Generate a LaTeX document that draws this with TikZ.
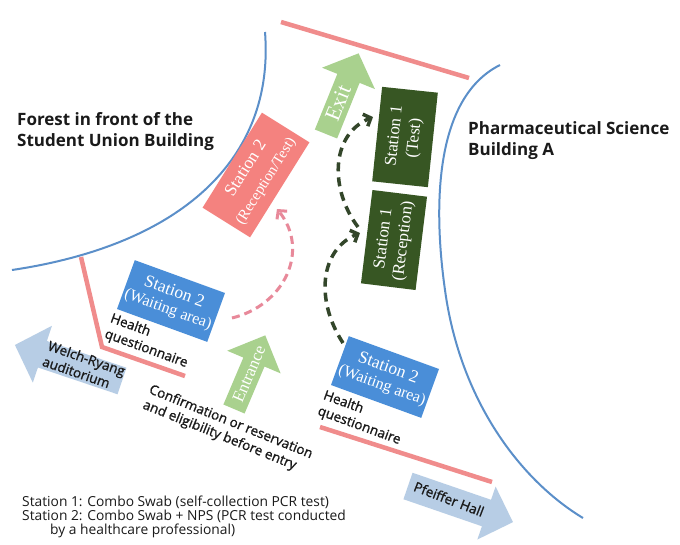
\documentclass[tikz,border=0pt]{standalone}
\usepackage{fontspec}
\setmainfont{Open Sans}
\newfontfamily\serifbox{Liberation Serif}
\newfontfamily\medfont[FakeBold=1.2]{Open Sans}
\usetikzlibrary{arrows.meta}

\definecolor{roadblue}{HTML}{5B8FC9}
\definecolor{wallred}{HTML}{F08C8C}
\definecolor{boxblue}{HTML}{4A8ED8}
\definecolor{boxpink}{HTML}{F4827F}
\definecolor{boxgreen}{HTML}{375623}
\definecolor{arrgreen}{HTML}{A9D18E}
\definecolor{arrblue}{HTML}{B7CDE5}
\definecolor{dashpink}{HTML}{E8899A}
\definecolor{dashgreen}{HTML}{33462A}
\definecolor{labelink}{HTML}{1A1A1A}

% base x, base y, angle, length, shaft, head, headlen, colour
\newcommand{\blockarrow}[8]{%
  \fill[#8, shift={(#1,#2)}, rotate=#3]
    (0,{-#5/2}) -- ({#4-#7},{-#5/2}) -- ({#4-#7},{-#6/2}) -- (#4,0)
    -- ({#4-#7},{#6/2}) -- ({#4-#7},{#5/2}) -- (0,{#5/2}) -- cycle;}

\tikzset{
  road/.style={draw=roadblue, line width=2pt},
  wall/.style={draw=wallred, line width=4.5pt},
  boxbase/.style={inner sep=0pt, align=center, text=white},
  bluebox/.style={boxbase, fill=boxblue, minimum width=96, minimum height=52,
    font=\serifbox\fontsize{17.5}{19}\selectfont},
  pinkbox/.style={boxbase, fill=boxpink, minimum width=112, minimum height=56,
    font=\serifbox\fontsize{17.5}{20}\selectfont},
  greenbox/.style={boxbase, fill=boxgreen, font=\serifbox\fontsize{17}{19}\selectfont},
  title/.style={inner sep=0pt, align=left, text=labelink,
    font=\bfseries\fontsize{17}{21}\selectfont},
  lbl/.style={inner sep=0pt, align=left, text=labelink,
    font=\medfont\fontsize{13.5}{16.5}\selectfont},
  arrlbl/.style={inner sep=0pt, text=white, font=\serifbox},
  pinkdash/.style={draw=dashpink, line width=3pt, dash pattern=on 8pt off 5pt,
    -{Straight Barb[length=6pt,width=13pt,line width=3pt]}},
  greendash/.style={draw=dashgreen, line width=3.5pt, dash pattern=on 9pt off 6pt,
    -{Straight Barb[length=6pt,width=13pt,line width=3.5pt]}},
}

\begin{document}
\begin{tikzpicture}[x=1pt,y=-1pt]
\useasboundingbox (0,0) rectangle (680,544);
\fill[white] (0,0) rectangle (680,544);

% building outlines
\draw[road] (265,32) .. controls (275,160) and (180,245) .. (12,270);
\draw[road] (500,65) .. controls (430,100) and (435,220) .. (445,290)
  .. controls (460,400) and (520,480) .. (583,518);

% fences
\draw[wall] (281,22) -- (469,78);
\draw[wall] (81,257) -- (102,347) -- (185,376);
\draw[wall] (320,427) -- (492,482);

% block arrows
\blockarrow{326}{134}{68}{87}{24}{57}{27}{arrgreen}
\blockarrow{234}{409}{67}{80}{23}{58}{29}{arrgreen}
\blockarrow{122}{381}{161.4}{113}{28}{60}{29}{arrblue}
\blockarrow{408}{486}{-19}{111}{28}{56}{28}{arrblue}

\node[arrlbl, rotate=68, font=\serifbox\fontsize{22}{22}\selectfont] (exitlbl) at (338,103) {Exit};
\node[arrlbl, rotate=67, font=\serifbox\fontsize{17}{17}\selectfont] (entrlbl) at (249,374) {Entrance};
\node[lbl, rotate=-19] (welch) at (84,366) {Welch-Ryang\\auditorium};
\node[lbl, rotate=-21] (pfeiffer) at (449,499) {Pfeiffer Hall};

% stations
\node[bluebox, rotate=-20] (wait1) at (171,301)
  {Station 2\\[-1pt]{\fontsize{16}{17}\selectfont(Waiting area)}};
\node[bluebox, rotate=-20] (wait2) at (385,377)
  {Station 2\\[-1pt]{\fontsize{16}{17}\selectfont(Waiting area)}};
\node[pinkbox, rotate=58] (recep2) at (256,175)
  {Station 2\\[3pt]{\fontsize{15}{16}\selectfont(Reception/Test)}};
\node[greenbox, rotate=84, minimum width=95, minimum height=56] (test1) at (405,137)
  {Station 1\\[1pt](Test)};
\node[greenbox, rotate=83, minimum width=94, minimum height=55] (recep1) at (394,240)
  {Station 1\\[1pt](Reception)};

% flow
\coordinate (pa) at (232,318);
\coordinate (pb) at (277,209);
\draw[pinkdash] (pa) .. controls (285,305) and (310,250) .. (pb);
\coordinate (ga) at (343,343);
\coordinate (gb) at (360,233);
\coordinate (gc) at (358,227);
\coordinate (gd) at (373,117);
\draw[greendash] (ga) .. controls (315,300) and (320,250) .. (gb);
\draw[greendash] (gc) .. controls (330,190) and (330,135) .. (gd);

% labels
\node[title, anchor=north west] (forest) at (17,112)
  {Forest in front of the\\Student Union Building};
\node[title, anchor=north west] (pharm) at (468,121)
  {Pharmaceutical Science\\Building A};
\node[lbl, rotate=-20, anchor=north west] (hq1) at (113,312) {Health\\questionnaire};
\node[lbl, rotate=-20, anchor=north west] (hq2) at (326,389) {Health\\questionnaire};
\node[lbl, rotate=-22, anchor=north west] (confirm) at (152,383)
  {Confirmation or reservation\\and eligibility before entry};

\node[inner sep=0pt, align=left, anchor=north west, text=labelink,
  font=\fontsize{13.8}{13.8}\selectfont] (legend) at (22,496)
  {Station 1: Combo Swab (self-collection PCR test)\\
   Station 2: Combo Swab + NPS (PCR test conducted\\
   \hspace*{28pt}by a healthcare professional)};
\end{tikzpicture}
\end{document}
